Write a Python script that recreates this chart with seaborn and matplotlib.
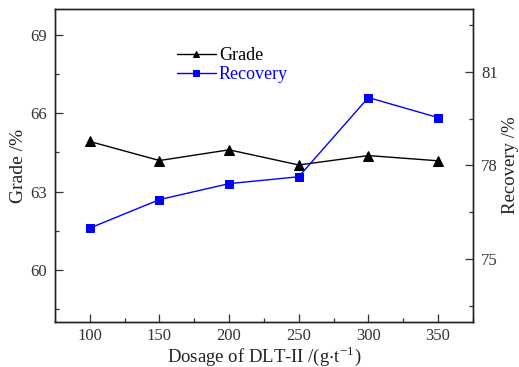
import matplotlib
matplotlib.use("Agg")
import matplotlib.pyplot as plt
import seaborn as sns
import pandas as pd
from matplotlib.ticker import MultipleLocator

dosage = [100, 150, 200, 250, 300, 350]
grade = [64.92, 64.19, 64.60, 64.02, 64.38, 64.18]
recovery = [76.00, 76.91, 77.42, 77.64, 80.17, 79.53]

sns.set_style("ticks")
plt.rcParams['font.family'] = ['Liberation Serif', 'DejaVu Serif']
plt.rcParams['mathtext.fontset'] = 'stix'

fig = plt.figure(figsize=(5.19, 3.67), dpi=100)
ax = fig.add_axes([0.106, 0.1226, 0.805, 0.853])
ax2 = ax.twinx()

df = pd.DataFrame({"dosage": dosage, "grade": grade, "recovery": recovery})
sns.lineplot(data=df, x="dosage", y="grade", ax=ax, color="black", marker="^",
             markersize=7, markeredgecolor="black", linewidth=1.0, label="Grade", legend=False)
sns.lineplot(data=df, x="dosage", y="recovery", ax=ax2, color="#0000ff", marker="s",
             markersize=6, markeredgecolor="#0000ff", linewidth=1.0, label="Recovery", legend=False)

ax.set_xlim(75, 375)
ax.set_ylim(58, 70)
ax2.set_ylim(73, 83)
ax.xaxis.set_major_locator(MultipleLocator(50))
ax.xaxis.set_minor_locator(MultipleLocator(25))
ax.yaxis.set_major_locator(MultipleLocator(3))
ax.yaxis.set_minor_locator(MultipleLocator(1.5))
ax2.yaxis.set_major_locator(MultipleLocator(3))
ax2.yaxis.set_minor_locator(MultipleLocator(1.5))

for a in (ax, ax2):
    a.tick_params(which="major", direction="in", length=6, width=0.9, labelsize=12, pad=6,
                  colors="#333333", labelcolor="#333333")
    a.tick_params(which="minor", direction="in", length=3, width=0.9, colors="#333333")
    for s in a.spines.values():
        s.set_visible(True)
        s.set_linewidth(1.0)
        s.set_color("#222222")
ax.tick_params(axis="x", which="both", top=False, pad=4)
ax.tick_params(axis="y", which="both", right=False)

ax.set_xlabel("Dosage of DLT-II /(g$\\cdot$t$^{\\mathregular{-1}}$)", fontsize=13.5, color="#222222")
ax.xaxis.set_label_coords(0.5, -0.072)
ax.set_ylabel("Grade /%", fontsize=14, labelpad=2, color="#222222")
ax2.set_ylabel("Recovery /%", fontsize=13.5, labelpad=3, color="#222222")

h1, l1 = ax.get_legend_handles_labels()
h2, l2 = ax2.get_legend_handles_labels()
leg = ax.legend(h1 + h2, l1 + l2, loc="upper left", bbox_to_anchor=(0.252, 0.93),
                frameon=False, fontsize=13, labelcolor=["black", "#0000ff"],
                handlelength=2.2, handletextpad=0.15, labelspacing=0.1, markerscale=0.65)

fig.savefig("out.png", dpi=100)
